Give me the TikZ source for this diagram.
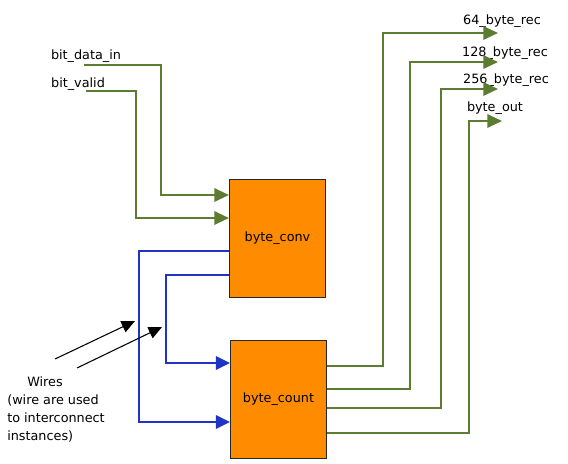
\documentclass[tikz,border=0pt]{standalone}
\usepackage{fontspec}
\setmainfont{DejaVu Sans}
\usepackage{xcolor}
\usetikzlibrary{arrows.meta}
\definecolor{wiregreen}{RGB}{92,124,50}
\definecolor{wireblue}{RGB}{32,52,196}
\definecolor{boxorange}{RGB}{255,140,0}

\begin{document}
\begin{tikzpicture}[x=0.75pt,y=-0.75pt,
  boxnode/.style={rectangle, draw=black!85, fill=boxorange, line width=0.8pt, minimum width=72pt, minimum height=89pt, inner sep=0pt, font=\fontsize{9.6}{12}\selectfont},
  labelnode/.style={inner sep=0pt, font=\fontsize{9.6}{13.5}\selectfont}]
            \useasboundingbox (0,0) rectangle (568,464);
            \node[boxnode] (conv) at (277.5,238.5) {byte\_conv};
            \node[boxnode] (count) at (278.5,399.5) {byte\_count};
            \node[labelnode] (din) at (86,56) {bit\_data\_in};
            \node[labelnode] (valid) at (78,84) {bit\_valid};
            \node[labelnode] (rec64) at (502,21) {64\_byte\_rec};
            \node[labelnode] (rec128) at (505,53) {128\_byte\_rec};
            \node[labelnode] (rec256) at (506,80) {256\_byte\_rec};
            \node[labelnode] (bout) at (495,108) {byte\_out};
            \node[labelnode, align=left, anchor=west] (wires) at (7,409) {\hspace*{15pt}Wires\\(wire are used\\to interconnect\\instances)};
            \coordinate (dinend) at (84,65);
            \coordinate (validend) at (86,91);
            \coordinate (w1) at (55,359);
            \coordinate (w2) at (77,368);

            \tikzset{greenwire/.style={draw=wiregreen, line width=1.6pt, -{Triangle[length=11pt,width=10pt]}, wiregreen}}
            \tikzset{bluewire/.style={draw=wireblue, line width=1.6pt, -{Triangle[length=10.5pt,width=10pt]}, wireblue}}
            \tikzset{pointer/.style={draw=black, line width=0.8pt, -{Triangle[length=10pt,width=9pt]}}}

            \draw[greenwire] (dinend) -- (161,65) -- (161,195) -- (conv.west |- 0,195);
            \draw[greenwire] (validend) -- (136,91) -- (136,218) -- (conv.west |- 0,218);
            \draw[bluewire] (conv.west |- 0,251) -- (139,251) -- (139,422) -- (count.west |- 0,422);
            \draw[bluewire] (conv.west |- 0,275) -- (166,275) -- (166,363) -- (count.west |- 0,363);
            \draw[greenwire] (count.east |- 0,366) -- (383,366) -- (383,33) -- (498,33);
            \draw[greenwire] (count.east |- 0,389) -- (410,389) -- (410,62) -- (498,62);
            \draw[greenwire] (count.east |- 0,408) -- (441,408) -- (441,89) -- (498,89);
            \draw[greenwire] (count.east |- 0,433) -- (469,433) -- (469,121) -- (502,121);
            \draw[pointer] (w1) -- (135,321);
            \draw[pointer] (w2) -- (162,327);

        \end{tikzpicture}
\end{document}
